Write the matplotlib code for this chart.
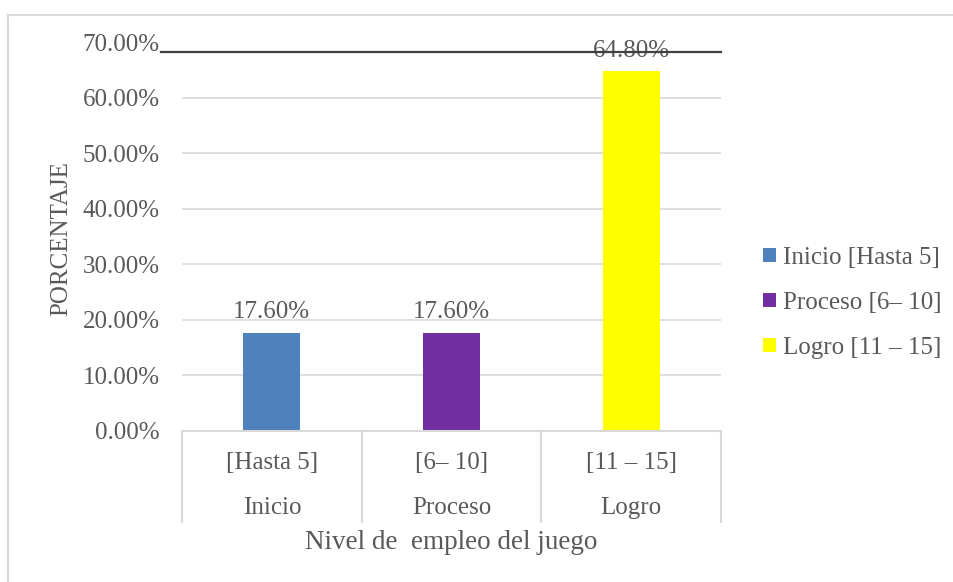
import matplotlib.pyplot as plt
from matplotlib.lines import Line2D
from matplotlib.patches import Patch
from matplotlib.ticker import FuncFormatter

niveles = ["Inicio", "Proceso", "Logro"]
rangos = ["[Hasta 5]", "[6\u2013 10]", "[11 \u2013 15]"]
leyendas = ["Inicio [Hasta 5]", "Proceso [6\u2013 10]", "Logro [11 \u2013 15]"]
porcentajes = [0.176, 0.176, 0.648]
colores = ["#4F81BD", "#7030A0", "#FFFF00"]

GRIS = "#595959"
GRID = "#D9D9D9"
FS = 18

plt.rcParams["font.family"] = ["Liberation Serif", "DejaVu Serif"]

fig = plt.figure(figsize=(9.54, 5.82), dpi=100)
ax = fig.add_axes([0.1908, 0.2595, 0.565, 0.6675])

x = range(len(niveles))
ax.bar(x, porcentajes, width=0.317, color=colores, zorder=3)

ax.set_xlim(-0.5, 2.5)
ax.set_ylim(0, 0.70)
ax.set_yticks([i / 10 for i in range(8)])
ax.yaxis.set_major_formatter(FuncFormatter(lambda v, _: f"{v * 100:.2f}%"))
ax.tick_params(axis="y", length=0, pad=16, labelsize=FS, labelcolor=GRIS)
ax.set_xticks([])
for s in ax.spines.values():
    s.set_visible(False)

# gridlines (no line at the 70% top)
for yv in [i / 10 for i in range(1, 7)]:
    ax.axhline(yv, color=GRID, lw=1.2, zorder=1)

# category axis: baseline and separators
trans = ax.get_xaxis_transform()
ax.plot([-0.5, 2.5], [0, 0], color=GRID, lw=1.5, transform=trans, clip_on=False, zorder=4)
for b in [-0.5, 0.5, 1.5, 2.5]:
    ax.plot([b, b], [0, -0.234], color=GRID, lw=1.5, transform=trans, clip_on=False)

for i, (r, n) in enumerate(zip(rangos, niveles)):
    ax.text(i, -0.0824, r, transform=trans, ha="center", va="center", fontsize=FS, color=GRIS)
    ax.text(i, -0.198, n, transform=trans, ha="center", va="center", fontsize=FS, color=GRIS)

ax.text(0.5, -0.288, "Nivel de  empleo del juego", transform=ax.transAxes,
        ha="center", va="center", fontsize=19.5, color=GRIS)

# value labels
for i, v in enumerate(porcentajes):
    ax.annotate(f"{v * 100:.2f}%", (i, v), xytext=(0, 15), textcoords="offset points",
                ha="center", va="center", fontsize=FS, color=GRIS, zorder=5)

# dark line drawn across the top
ax.add_line(Line2D([-0.039, 1.0], [0.976, 0.976], transform=ax.transAxes,
                   color="#404040", lw=1.6, clip_on=False, zorder=6))

fig.text(61 / 954, 1 - 239 / 582, "PORCENTAJE", rotation=90, ha="center", va="center",
         fontsize=FS, color=GRIS)

handles = [Patch(facecolor=c, edgecolor="none") for c in colores]
fig.legend(handles, leyendas, loc="center left", bbox_to_anchor=(763 / 954, 1 - 303 / 582),
           frameon=False, fontsize=FS, labelcolor=GRIS, borderpad=0, borderaxespad=0,
           handlelength=0.52, handleheight=0.52, handletextpad=0.3, labelspacing=0.92)

# outer chart border (top and left visible)
fig.add_artist(Line2D([8.5 / 954, 8.5 / 954], [0, 1 - 14.5 / 582], color=GRID, lw=1.5))
fig.add_artist(Line2D([8.5 / 954, 1], [1 - 14.5 / 582, 1 - 14.5 / 582], color=GRID, lw=1.5))

fig.savefig("out.png", dpi=100)
